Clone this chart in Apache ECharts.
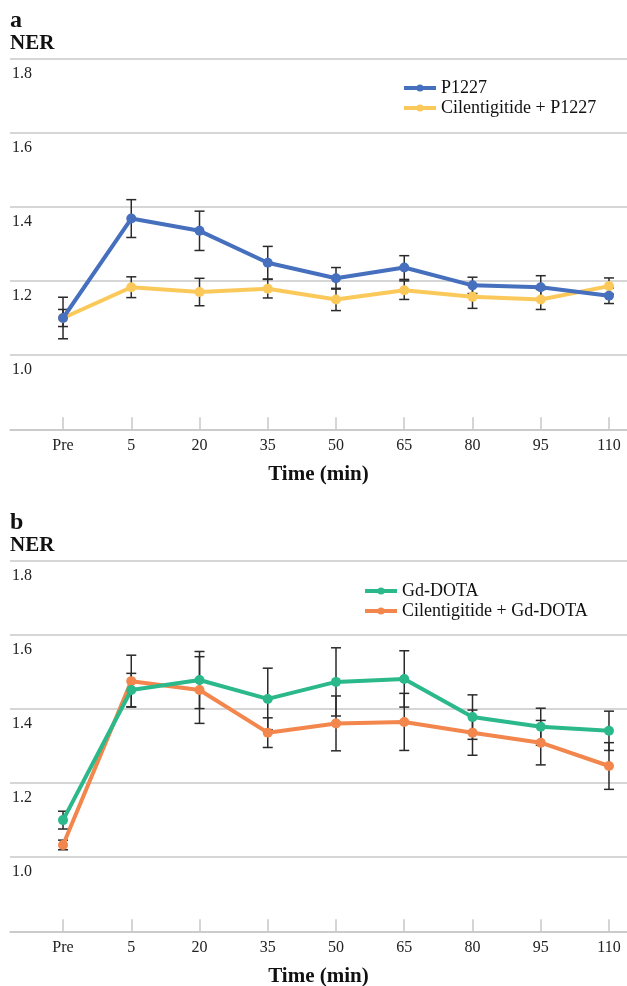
<!DOCTYPE html>
<html>
<head>
<meta charset="utf-8">
<script src="https://cdn.jsdelivr.net/npm/echarts@6/dist/echarts.min.js"></script>
<style>
  html, body { margin: 0; padding: 0; background: #fff; }
  #chart { width: 627px; height: 986px; }
</style>
</head>
<body>
<div id="chart"></div>
<script>
// 横轴类别
const timeLabels = ['Pre', '5', '20', '35', '50', '65', '80', '95', '110'];

// 面板 a
const p1227 = [1.100, 1.368, 1.335, 1.249, 1.207, 1.236, 1.188, 1.183, 1.160];
const p1227Err = [0.056, 0.051, 0.053, 0.044, 0.029, 0.032, 0.022, 0.031, 0.021];
const cilP1227 = [1.100, 1.183, 1.170, 1.179, 1.150, 1.175, 1.157, 1.150, 1.186];
const cilP1227Err = [0.023, 0.028, 0.037, 0.025, 0.030, 0.025, 0.031, 0.027, 0.022];

// 面板 b
const gdDota = [1.100, 1.451, 1.478, 1.427, 1.473, 1.481, 1.378, 1.352, 1.341];
const gdDotaErr = [0.024, 0.045, 0.077, 0.083, 0.092, 0.076, 0.060, 0.050, 0.053];
const cilGdDota = [1.033, 1.475, 1.451, 1.336, 1.361, 1.365, 1.336, 1.309, 1.246];
const cilGdDotaErr = [0.013, 0.070, 0.090, 0.040, 0.074, 0.077, 0.061, 0.060, 0.063];

const FONT = "'Liberation Serif', 'Times New Roman', serif";
const GRID_LINE = '#c8c8c8';

const chart = echarts.init(document.getElementById('chart'));

function pairs(values) {
  return values.map((v, i) => [i, v]);
}

function errData(values, errs) {
  return values.map((v, i) => [i, v - errs[i], v + errs[i]]);
}

// 误差棒
function errorSeries(name, gridIdx, values, errs) {
  return {
    name: name + ' err',
    type: 'custom',
    xAxisIndex: gridIdx,
    yAxisIndex: gridIdx,
    z: 1,
    silent: true,
    data: errData(values, errs),
    renderItem: (params, api) => {
      const lo = api.coord([api.value(0), api.value(1)]);
      const hi = api.coord([api.value(0), api.value(2)]);
      const w = 5;
      const style = { stroke: '#2a2a2a', lineWidth: 1.5 };
      return {
        type: 'group',
        children: [
          { type: 'line', shape: { x1: lo[0], y1: lo[1], x2: hi[0], y2: hi[1] }, style },
          { type: 'line', shape: { x1: lo[0] - w, y1: lo[1], x2: lo[0] + w, y2: lo[1] }, style },
          { type: 'line', shape: { x1: hi[0] - w, y1: hi[1], x2: hi[0] + w, y2: hi[1] }, style }
        ]
      };
    }
  };
}

function lineSeries(name, gridIdx, values, color, z) {
  return {
    name: name,
    type: 'line',
    xAxisIndex: gridIdx,
    yAxisIndex: gridIdx,
    z: z,
    data: pairs(values),
    symbol: 'circle',
    symbolSize: 10,
    lineStyle: { color: color, width: 4 },
    itemStyle: { color: color },
    emphasis: { disabled: true }
  };
}

function xAxisFor(gridIdx) {
  return {
    type: 'value',
    gridIndex: gridIdx,
    min: -0.777,
    max: 8.264,
    name: 'Time (min)',
    nameLocation: 'middle',
    nameGap: 35,
    nameTextStyle: { fontFamily: FONT, fontSize: 21, fontWeight: 'bold', color: '#111' },
    splitLine: { show: false },
    axisLine: { show: true, lineStyle: { color: GRID_LINE, width: 1.5 } },
    axisTick: {
      show: true,
      inside: true,
      length: 12,
      customValues: timeLabels.map((_, i) => i),
      lineStyle: { color: GRID_LINE, width: 1.5 }
    },
    axisLabel: {
      show: true,
      customValues: timeLabels.map((_, i) => i),
      formatter: (v) => timeLabels[Math.round(v)] || '',
      fontFamily: FONT,
      fontSize: 16,
      color: '#222',
      margin: 8
    }
  };
}

function yAxisFor(gridIdx) {
  return {
    type: 'value',
    gridIndex: gridIdx,
    min: 0.8,
    max: 1.8,
    interval: 0.2,
    axisLine: { show: false },
    axisTick: { show: false },
    splitLine: { show: true, lineStyle: { color: GRID_LINE, width: 1.5 } },
    axisLabel: {
      inside: true,
      margin: 2,
      verticalAlign: 'top',
      lineHeight: 30,
      fontFamily: FONT,
      fontSize: 16,
      color: '#222',
      formatter: (v) => (Math.abs(v - 0.8) < 1e-6 ? '' : v.toFixed(1))
    }
  };
}

function panelLabels(letter, yOff) {
  return [
    {
      type: 'text',
      left: 10,
      top: yOff + 9,
      style: { text: letter, font: 'bold 24px ' + FONT, fill: '#111' }
    },
    {
      type: 'text',
      left: 10,
      top: yOff + 33,
      style: { text: 'NER', font: 'bold 21px ' + FONT, fill: '#111' }
    }
  ];
}

function legendFor(names, left, top) {
  return {
    data: names,
    orient: 'vertical',
    left: left,
    top: top,
    padding: 0,
    itemWidth: 32,
    itemHeight: 9,
    itemGap: 0,
    lineStyle: { width: 4 },
    textStyle: { fontFamily: FONT, fontSize: 18, color: '#111', lineHeight: 20 }
  };
}

const option = {
  animation: false,
  backgroundColor: '#ffffff',
  graphic: panelLabels('a', 0).concat(panelLabels('b', 502)),
  grid: [
    { left: 10, right: 0, top: 58.3, height: 371, outerBoundsMode: 'none' },
    { left: 10, right: 0, top: 560.7, height: 370.6, outerBoundsMode: 'none' }
  ],
  legend: [
    legendFor(['P1227', 'Cilentigitide + P1227'], 402, 78),
    legendFor(['Gd-DOTA', 'Cilentigitide + Gd-DOTA'], 363, 581)
  ],
  xAxis: [xAxisFor(0), xAxisFor(1)],
  yAxis: [yAxisFor(0), yAxisFor(1)],
  series: [
    errorSeries('P1227', 0, p1227, p1227Err),
    errorSeries('Cilentigitide + P1227', 0, cilP1227, cilP1227Err),
    lineSeries('Cilentigitide + P1227', 0, cilP1227, '#fbc95a', 3),
    lineSeries('P1227', 0, p1227, '#4670bd', 4),
    errorSeries('Gd-DOTA', 1, gdDota, gdDotaErr),
    errorSeries('Cilentigitide + Gd-DOTA', 1, cilGdDota, cilGdDotaErr),
    lineSeries('Cilentigitide + Gd-DOTA', 1, cilGdDota, '#f2864c', 3),
    lineSeries('Gd-DOTA', 1, gdDota, '#2bb88a', 4)
  ]
};

chart.setOption(option);
</script>
</body>
</html>
